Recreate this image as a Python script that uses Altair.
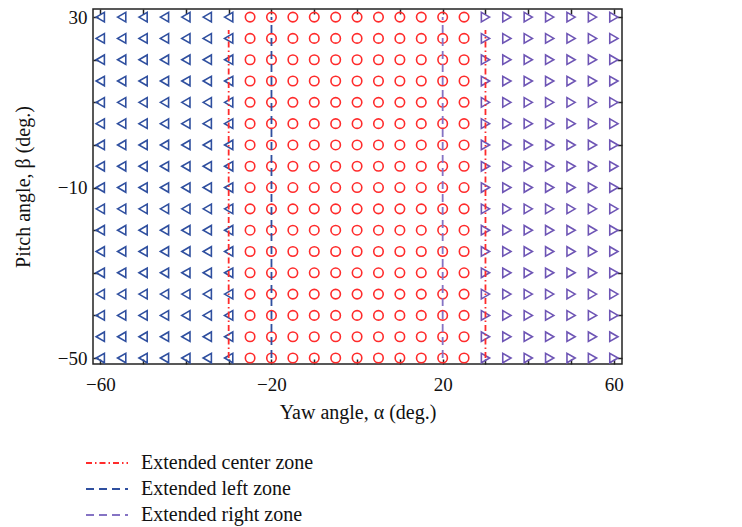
import altair as alt
import pandas as pd

# ---- data ----
yaw_left = [-60, -55, -50, -45, -40, -35, -30]
yaw_center = [-25, -20, -15, -10, -5, 0, 5, 10, 15, 20, 25]
yaw_right = [30, 35, 40, 45, 50, 55, 60]
pitch = [-50, -45, -40, -35, -30, -25, -20, -15, -10, -5, 0, 5, 10, 15, 20, 25, 30]

zone_names = ["Extended center zone", "Extended center zone", "Extended left zone", "Extended right zone"]
zone_x = [-30, 30, -20, 20]
zone_y_low = [-50, -50, -50, -50]
zone_y_high = [27, 27, 30, 30]

x_ticks = [-60, -50, -40, -30, -20, -10, 0, 10, 20, 30, 40, 50, 60]
x_labels = [-60, -20, 20, 60]
y_ticks = [-50, -40, -30, -20, -10, 0, 10, 20, 30]
y_labels = [-50, -10, 30]

legend_order = ["Extended center zone", "Extended left zone", "Extended right zone"]
legend_colors = ["#ff2b2b", "#2f4f9f", "#8573c4"]
legend_dash = [[6, 3, 1.5, 3], [8, 5], [8, 5]]

FONT = "Liberation Serif"
XDOM = [-61.7, 61.9]
YDOM = [-51.4, 31.9]


def grid(xs):
    return pd.DataFrame([{"yaw": x, "pitch": y} for x in xs for y in pitch])


df_left = grid(yaw_left)
df_center = grid(yaw_center)
df_right = grid(yaw_right)
df_lines = pd.DataFrame({"zone": zone_names, "yaw": zone_x, "lo": zone_y_low, "hi": zone_y_high})

xscale = alt.Scale(domain=XDOM, nice=False, zero=False)
yscale = alt.Scale(domain=YDOM, nice=False, zero=False)

minus = "replace(datum.label, '-', '\u2212')"

label_x_axis = alt.Axis(values=x_labels, ticks=False, domain=False, grid=False, orient="bottom",
                        labelFont=FONT, labelFontSize=19, labelColor="#111", labelPadding=11,
                        labelExpr=minus, labelFlush=False,
                        title="Yaw angle, \u03b1 (deg.)", titleFont=FONT, titleFontSize=20,
                        titleFontWeight="normal", titleColor="#111", titlePadding=8)
label_y_axis = alt.Axis(values=y_labels, ticks=False, domain=False, grid=False, orient="left",
                        labelFont=FONT, labelFontSize=19, labelColor="#111", labelPadding=6,
                        labelExpr=minus, labelFlush=False,
                        title="Pitch angle, \u03b2 (deg.)", titleFont=FONT, titleFontSize=20,
                        titleFontWeight="normal", titleColor="#111", titlePadding=24)


def tick_axis(values, orient):
    return alt.Axis(values=values, labels=False, domain=False, grid=False, orient=orient,
                    ticks=True, tickSize=5, tickWidth=1.5, tickColor="#222", offset=-5, title=None)


def points(df, shape, color, xaxis, yaxis):
    return alt.Chart(df).mark_point(shape=shape, filled=False, size=90, strokeWidth=1.6,
                                    color=color, opacity=1).encode(
        x=alt.X("yaw:Q", scale=xscale, axis=xaxis),
        y=alt.Y("pitch:Q", scale=yscale, axis=yaxis),
    )


p_left = points(df_left, "triangle-left", "#2f4f9f", label_x_axis, label_y_axis)
p_center = points(df_center, "circle", "#ff2b2b", tick_axis(x_ticks, "bottom"), tick_axis(y_ticks, "left"))
p_right = points(df_right, "triangle-right", "#6e55b5", tick_axis(x_ticks, "top"), tick_axis(y_ticks, "right"))


def zone_legend():
    return alt.Legend(title=None, orient="none", legendX=-8, legendY=441,
                      symbolType="stroke", symbolSize=1764, symbolStrokeWidth=1.8,
                      clipHeight=26, labelFont=FONT, labelFontSize=20, labelLimit=400,
                      labelColor="#111", labelOffset=12, rowPadding=0, padding=0)


lines = alt.Chart(df_lines).mark_rule(strokeWidth=1.8).encode(
    x=alt.X("yaw:Q", scale=xscale, axis=None),
    y=alt.Y("lo:Q", scale=yscale, axis=None),
    y2="hi:Q",
    color=alt.Color("zone:N", scale=alt.Scale(domain=legend_order, range=legend_colors),
                    legend=zone_legend()),
    strokeDash=alt.StrokeDash("zone:N", scale=alt.Scale(domain=legend_order, range=legend_dash),
                              legend=zone_legend()),
)

chart = alt.layer(p_left, p_center, p_right, lines).resolve_axis(
    x="independent", y="independent"
).properties(
    width=529, height=355,
    padding={"top": 0, "left": 5, "right": 5, "bottom": 5},
).configure(background="white").configure_view(stroke="#222", strokeWidth=1.5)

chart.save("out.html", embed_options={"renderer": "svg", "actions": False})
